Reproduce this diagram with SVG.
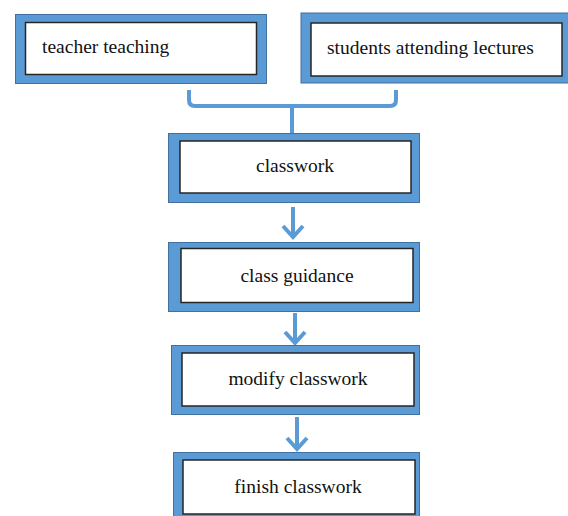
<svg xmlns="http://www.w3.org/2000/svg" width="568" height="516" viewBox="0 0 568 516">
  <style>
    .frame { fill: #5b9bd5; stroke: #41719c; stroke-width: 1; }
    .inner { fill: #ffffff; stroke: #262626; stroke-width: 1.5; }
    .label { font-size: 19.5px; fill: #111111; }
    .mid { text-anchor: middle; }
    .link { fill: none; stroke: #5b9bd5; stroke-width: 4; stroke-linejoin: miter; }
  </style>
  <rect width="568" height="516" fill="#ffffff"/>

  <!-- connectors -->
  <g id="connectors">
    <path class="link" d="M189,90 V100 Q189,106 195,106 H390 Q396,106 396,100 V90"/>
    <path class="link" d="M292,106 V134"/>
    <path class="link" d="M293,207 V238"/>
    <path class="link" d="M283,226 L293,237 L303,226"/>
    <path class="link" d="M295,313 V343"/>
    <path class="link" d="M285,332 L295,343 L305,332"/>
    <path class="link" d="M297,417 V449"/>
    <path class="link" d="M287,438 L297,449 L307,438"/>
  </g>

  <g font-family="'Liberation Serif', 'DejaVu Serif', serif">
    <g id="teacher-teaching">
      <rect class="frame" x="15.5" y="14.5" width="251" height="69"/>
      <rect class="inner" x="25.5" y="22.5" width="231" height="52"/>
      <text class="label" x="42" y="53">teacher teaching</text>
    </g>

    <g id="students-attending">
      <rect class="frame" x="301" y="13" width="272" height="70"/>
      <rect class="inner" x="311" y="23" width="251" height="53"/>
      <text class="label" x="327" y="54">students attending lectures</text>
    </g>

    <g id="classwork">
      <rect class="frame" x="168.5" y="133.5" width="251" height="69"/>
      <rect class="inner" x="180" y="141" width="231" height="52"/>
      <text class="label mid" x="295" y="172">classwork</text>
    </g>

    <g id="class-guidance">
      <rect class="frame" x="168.5" y="242.5" width="251" height="69"/>
      <rect class="inner" x="181" y="248.5" width="232" height="54"/>
      <text class="label mid" x="297" y="282">class guidance</text>
    </g>

    <g id="modify-classwork">
      <rect class="frame" x="171.5" y="345.5" width="248" height="69"/>
      <rect class="inner" x="182" y="353" width="232" height="53"/>
      <text class="label mid" x="298" y="385">modify classwork</text>
    </g>

    <g id="finish-classwork">
      <rect class="frame" x="173.5" y="452.5" width="246" height="70"/>
      <rect class="inner" x="183" y="460" width="232" height="54"/>
      <text class="label mid" x="298" y="493">finish classwork</text>
    </g>
  </g>
</svg>
